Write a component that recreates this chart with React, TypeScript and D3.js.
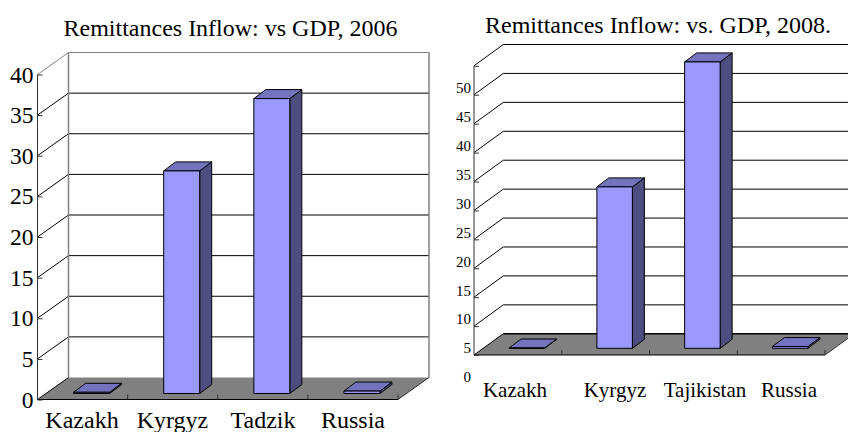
import { useEffect, useRef } from 'react';
import * as d3 from 'd3';

const leftTitle = 'Remittances Inflow: vs GDP, 2006';
const leftCategories = ['Kazakh', 'Kyrgyz', 'Tadzik', 'Russia'];
const leftValues = [0.15, 27.4, 36.3, 0.3];
const leftTicks = [0, 5, 10, 15, 20, 25, 30, 35, 40];

const rightTitle = 'Remittances Inflow: vs. GDP, 2008.';
const rightCategories = ['Kazakh', 'Kyrgyz', 'Tajikistan', 'Russia'];
const rightValues = [5.05, 32.9, 54.5, 5.3];
const rightTicks = [0, 5, 10, 15, 20, 25, 30, 35, 40, 45, 50, 55];

const FONT = '"Liberation Serif", "Times New Roman", serif';

const leftConfig = {
  title: leftTitle, titleX: 230.5, titleY: 36, titleSize: 24,
  categories: leftCategories, values: leftValues, ticks: leftTicks,
  domain: [0, 40], yRange: [399.5, 74.5], floorValue: 0, floorY: 399.5,
  x0: 37.5, x1: 398, dx: 31, dy: 22,
  frontX: 9, frontY: 6, barW: 36,
  wallColor: '#808080', hiddenLabels: [] as number[],
  tickSize: 23.5, tickX: -4, labelDy: 0, catSize: 24, catY: 428,
  catX: [82, 172.5, 263, 353]
};

const rightConfig = {
  title: rightTitle, titleX: 658, titleY: 32.5, titleSize: 24,
  categories: rightCategories, values: rightValues, ticks: rightTicks,
  domain: [0, 55], yRange: [384, 65.8], floorValue: 5, floorY: 355,
  x0: 474, x1: 825, dx: 29.3, dy: 21.3,
  frontX: 9, frontY: 6.7, barW: 35.5,
  wallColor: 'none', hiddenLabels: [55],
  tickSize: 15, tickX: -3, labelDy: -7, catSize: 21, catY: 396.5,
  catX: [515, 615, 705, 789]
};

type Config = typeof leftConfig;

const COLORS = { front: '#9999ff', top: '#7373bf', side: '#4d4d80', floor: '#808080' };

function drawChart(svg: any, c: Config) {
  const g = svg.append('g');
  const y = d3.scaleLinear().domain(c.domain).range(c.yRange);
  const x = d3.scaleBand().domain(c.categories).range([c.x0, c.x1]);
  const gridValues = c.ticks.filter(t => t > c.floorValue);
  const right = c.x1 + c.dx;
  const backFloorY = c.floorY - c.dy;
  const topY = y(c.domain[1]);

  // floor
  g.append('path')
    .attr('d', `M${c.x0},${c.floorY}L${c.x0 + c.dx},${backFloorY}L${right},${backFloorY}L${c.x1},${c.floorY}Z`)
    .attr('fill', COLORS.floor)
    .attr('stroke', 'none');

  // back wall gridlines and their diagonals
  gridValues.forEach((t, i) => {
    const gy = y(t);
    const last = i === gridValues.length - 1;
    const stroke = last && c.wallColor !== 'none' ? c.wallColor : '#000';
    g.append('line')
      .attr('x1', c.x0 + c.dx).attr('x2', right)
      .attr('y1', gy - c.dy).attr('y2', gy - c.dy)
      .attr('stroke', stroke).attr('stroke-width', 1);
    g.append('line')
      .attr('x1', c.x0).attr('x2', c.x0 + c.dx)
      .attr('y1', gy).attr('y2', gy - c.dy)
      .attr('stroke', stroke).attr('stroke-width', 1);
  });

  if (c.wallColor !== 'none') {
    g.append('line')
      .attr('x1', c.x0 + c.dx).attr('x2', c.x0 + c.dx)
      .attr('y1', topY - c.dy).attr('y2', backFloorY)
      .attr('stroke', c.wallColor).attr('stroke-width', 1.5);
    g.append('line')
      .attr('x1', right).attr('x2', right)
      .attr('y1', topY - c.dy).attr('y2', backFloorY)
      .attr('stroke', c.wallColor).attr('stroke-width', 1.5);
  } else {
    g.append('line')
      .attr('x1', c.x0 + c.dx).attr('x2', right)
      .attr('y1', backFloorY).attr('y2', backFloorY)
      .attr('stroke', '#000').attr('stroke-width', 1.5);
  }

  // floor front edge + category ticks
  g.append('path')
    .attr('d', `M${c.x0},${c.floorY}L${c.x0 + c.dx},${backFloorY}`)
    .attr('stroke', '#000').attr('fill', 'none');
  g.append('path')
    .attr('d', `M${c.x1},${c.floorY}L${right},${backFloorY}`)
    .attr('stroke', '#333').attr('fill', 'none');
  g.append('line')
    .attr('x1', c.x0).attr('x2', c.x1)
    .attr('y1', c.floorY).attr('y2', c.floorY)
    .attr('stroke', '#000').attr('stroke-width', 1);
  c.categories.forEach(cat => {
    const tx = (x(cat) as number) + x.bandwidth();
    g.append('line')
      .attr('x1', tx).attr('x2', tx)
      .attr('y1', c.floorY).attr('y2', c.floorY - 5)
      .attr('stroke', '#333');
  });

  // bars
  const depthX = 12;
  const depthY = 9;
  const shift = c.floorY - y(c.floorValue);
  c.categories.forEach((cat, i) => {
    const bx = (x(cat) as number) + (x.bandwidth() - c.barW) / 2 + c.frontX;
    const bottom = c.floorY - c.frontY;
    const top = y(c.values[i]) + shift - c.frontY;
    const h = bottom - top;
    const bar = g.append('g').attr('stroke', '#000').attr('stroke-width', 1).attr('stroke-linejoin', 'round');
    bar.append('path')
      .attr('d', `M${bx + c.barW},${top}L${bx + c.barW + depthX},${top - depthY}l0,${h}L${bx + c.barW},${bottom}Z`)
      .attr('fill', COLORS.side);
    bar.append('path')
      .attr('d', `M${bx},${top}L${bx + depthX},${top - depthY}L${bx + c.barW + depthX},${top - depthY}L${bx + c.barW},${top}Z`)
      .attr('fill', COLORS.top);
    bar.append('rect')
      .attr('x', bx).attr('y', top).attr('width', c.barW).attr('height', h)
      .attr('fill', COLORS.front);
  });

  // value axis
  g.append('line')
    .attr('x1', c.x0).attr('x2', c.x0)
    .attr('y1', c.floorY).attr('y2', topY)
    .attr('stroke', '#333').attr('stroke-width', 1);

  const axis = g.append('g')
    .attr('transform', `translate(${c.x0},0)`)
    .call(d3.axisLeft(y).tickValues(c.ticks).tickSizeInner(-5).tickSizeOuter(0).tickPadding(2));
  axis.select('.domain').remove();
  axis.selectAll('.tick line')
    .attr('stroke', '#333')
    .filter((d: any) => d < c.floorValue)
    .remove();
  axis.selectAll('.tick text')
    .attr('x', c.tickX)
    .attr('dy', '0.32em')
    .attr('transform', `translate(0,${c.labelDy})`)
    .attr('fill', '#000')
    .style('font-family', FONT)
    .style('font-size', `${c.tickSize}px`)
    .filter((d: any) => c.hiddenLabels.includes(d))
    .remove();

  // category labels
  c.categories.forEach((cat, i) => {
    g.append('text')
      .attr('x', c.catX[i]).attr('y', c.catY)
      .attr('text-anchor', 'middle')
      .style('font-family', FONT)
      .style('font-size', `${c.catSize}px`)
      .text(cat);
  });

  g.append('text')
    .attr('x', c.titleX).attr('y', c.titleY)
    .attr('text-anchor', 'middle')
    .style('font-family', FONT)
    .style('font-size', `${c.titleSize}px`)
    .text(c.title);
}

export default function App() {
  const svgRef = useRef<SVGSVGElement>(null);

  useEffect(() => {
    const svg = d3.select(svgRef.current);
    svg.selectAll('*').remove();
    drawChart(svg, leftConfig);
    drawChart(svg, rightConfig);
  }, []);

  return (
    <svg
      ref={svgRef}
      width={848}
      height={432}
      style={{ position: 'absolute', left: 0, top: 0, background: '#fff' }}
    />
  );
}
